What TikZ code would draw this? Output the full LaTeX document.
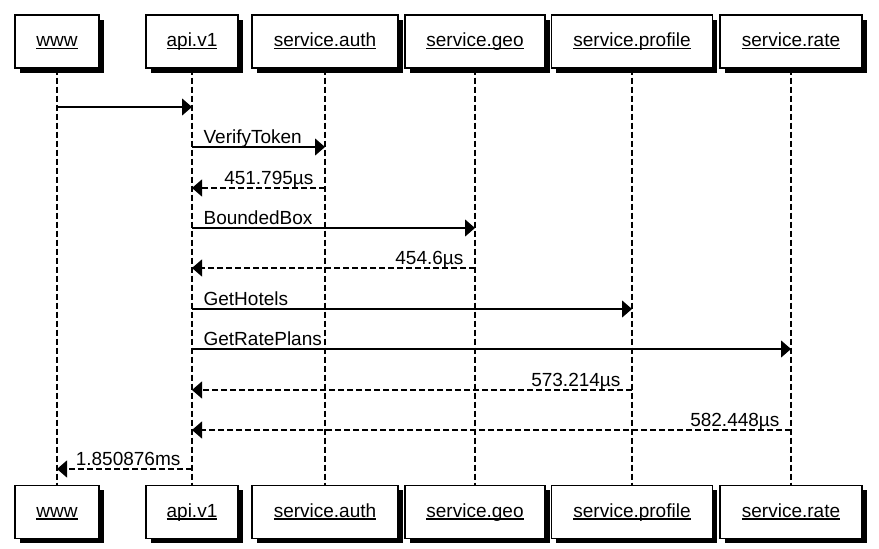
\documentclass[tikz,border=0pt]{standalone}
\usepackage{fontspec}
\setmainfont{Liberation Sans}
\usetikzlibrary{arrows.meta,shadows}
\newcommand\uname[1]{\setbox0\hbox{#1}\rlap{\rule[-2.5pt]{\wd0}{1.1pt}}\box0}
\tikzset{
	actor/.style={shape=rectangle, draw, line width=1.4pt, fill=white, minimum height=53pt, inner sep=0pt,
		text height=10pt, text depth=0pt,
		drop shadow={shadow xshift=4.5pt, shadow yshift=-4.5pt, fill=black, opacity=1}},
	lifeline/.style={line width=1.2pt, dash pattern=on 6pt off 3pt},
	call/.style={line width=1.2pt, -{Triangle[length=10pt, width=17pt]}},
	reply/.style={call, dash pattern=on 6pt off 3pt},
	calltext/.style={anchor=base west, xshift=11pt, yshift=4pt, inner sep=0pt},
	replytext/.style={anchor=base east, xshift=-11pt, yshift=4pt, inner sep=0pt}
}
\begin{document}
\begin{tikzpicture}[x=1pt, y=-1pt, font=\fontsize{19pt}{22pt}\selectfont]
	\useasboundingbox (0,0) rectangle (879,549);
	% Participants, top and bottom:
	\node[actor, minimum width=84pt] (wwwT) at (57, 41.5){\uname{www}};
	\node[actor, minimum width=92pt] (apiT) at (192, 41.5){\uname{api.v1}};
	\node[actor, minimum width=146pt] (authT) at (325, 41.5){\uname{service.auth}};
	\node[actor, minimum width=140pt] (geoT) at (475, 41.5){\uname{service.geo}};
	\node[actor, minimum width=161pt] (profileT) at (632, 41.5){\uname{service.profile}};
	\node[actor, minimum width=142pt] (rateT) at (791, 41.5){\uname{service.rate}};
	\node[actor, minimum width=84pt] (wwwB) at (57, 512){\uname{www}};
	\node[actor, minimum width=92pt] (apiB) at (192, 512){\uname{api.v1}};
	\node[actor, minimum width=146pt] (authB) at (325, 512){\uname{service.auth}};
	\node[actor, minimum width=140pt] (geoB) at (475, 512){\uname{service.geo}};
	\node[actor, minimum width=161pt] (profileB) at (632, 512){\uname{service.profile}};
	\node[actor, minimum width=142pt] (rateB) at (791, 512){\uname{service.rate}};
	% Lifelines:
	\draw[lifeline] (wwwT) -- (wwwB);
	\draw[lifeline] (apiT) -- (apiB);
	\draw[lifeline] (authT) -- (authB);
	\draw[lifeline] (geoT) -- (geoB);
	\draw[lifeline] (profileT) -- (profileB);
	\draw[lifeline] (rateT) -- (rateB);
	% Message rows:
	\coordinate (row1) at (0, 107);
	\coordinate (row2) at (0, 147);
	\coordinate (row3) at (0, 188);
	\coordinate (row4) at (0, 228);
	\coordinate (row5) at (0, 268);
	\coordinate (row6) at (0, 309);
	\coordinate (row7) at (0, 349);
	\coordinate (row8) at (0, 390);
	\coordinate (row9) at (0, 430);
	\coordinate (row10) at (0, 469);
	% Calls and replies:
	\draw[call] (wwwT |- row1) -- (apiT |- row1);
	\draw[call] (apiT |- row2) -- (authT |- row2) node[calltext, at start]{VerifyToken};
	\draw[reply] (authT |- row3) -- (apiT |- row3) node[replytext, at start]{451.795µs};
	\draw[call] (apiT |- row4) -- (geoT |- row4) node[calltext, at start]{BoundedBox};
	\draw[reply] (geoT |- row5) -- (apiT |- row5) node[replytext, at start]{454.6µs};
	\draw[call] (apiT |- row6) -- (profileT |- row6) node[calltext, at start]{GetHotels};
	\draw[call] (apiT |- row7) -- (rateT |- row7) node[calltext, at start]{GetRatePlans};
	\draw[reply] (profileT |- row8) -- (apiT |- row8) node[replytext, at start]{573.214µs};
	\draw[reply] (rateT |- row9) -- (apiT |- row9) node[replytext, at start]{582.448µs};
	\draw[reply] (apiT |- row10) -- (wwwT |- row10) node[replytext, at start]{1.850876ms};
\end{tikzpicture}
\end{document}
